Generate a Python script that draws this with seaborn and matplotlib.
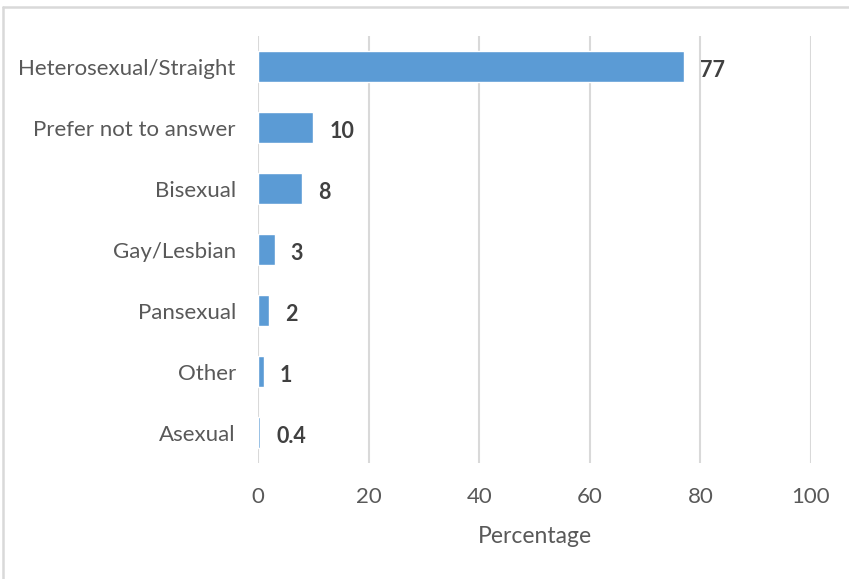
import matplotlib
matplotlib.use("Agg")
import matplotlib.pyplot as plt
import seaborn as sns
import pandas as pd
from matplotlib.lines import Line2D

categories = ["Heterosexual/Straight", "Prefer not to answer", "Bisexual",
              "Gay/Lesbian", "Pansexual", "Other", "Asexual"]
values = [77, 10, 8, 3, 2, 1, 0.4]
value_labels = ["77", "10", "8", "3", "2", "1", "0.4"]
x_ticks = [0, 20, 40, 60, 80, 100]

sns.set_theme(style="white")
plt.rcParams["font.family"] = ["Lato", "DejaVu Sans"]

df = pd.DataFrame({"category": categories, "value": values})

W, H = 849, 579
fig = plt.figure(figsize=(W / 100, H / 100), dpi=100)
ax = fig.add_axes([258 / W, 1 - 463 / H, (811 - 258) / W, (463 - 36) / H])

sns.barplot(data=df, x="value", y="category", order=categories,
            color="#5B9BD5", saturation=1, width=0.5, ax=ax)

ax.set_xlim(0, 100)
ax.set_xticks(x_ticks)
ax.set_xticklabels([str(t) for t in x_ticks])
ax.grid(axis="x", color="#D9D9D9", linewidth=1.5)
ax.grid(axis="y", visible=False)
ax.set_axisbelow(True)
for s in ax.spines.values():
    s.set_visible(False)

ax.tick_params(axis="both", length=0, labelsize=16, colors="#595959")
ax.tick_params(axis="y", pad=16)
ax.tick_params(axis="x", pad=17)
ax.set_ylabel("")
ax.set_xlabel("Percentage", fontsize=16.5, color="#595959", labelpad=14)

for i, (v, lab) in enumerate(zip(values, value_labels)):
    ax.annotate(lab, xy=(v, i), xytext=(16, -2), textcoords="offset pixels",
                va="center_baseline", ha="left", fontsize=15.5,
                fontweight="bold", color="#404040")

# frame lines along the top and left edges of the canvas
fig.add_artist(Line2D([3 / W, 1], [1 - 6.5 / H, 1 - 6.5 / H],
                      transform=fig.transFigure, color="#D9D9D9", linewidth=1.8))
fig.add_artist(Line2D([3 / W, 3 / W], [0, 1 - 6.5 / H],
                      transform=fig.transFigure, color="#D9D9D9", linewidth=1.8))

fig.savefig("out.png", dpi=100)
